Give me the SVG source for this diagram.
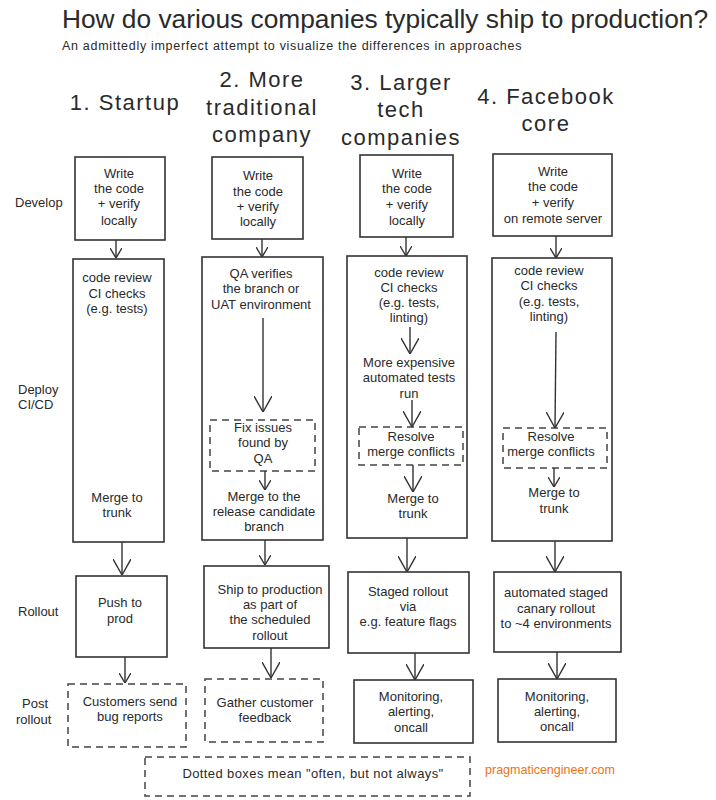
<svg xmlns="http://www.w3.org/2000/svg" width="716" height="800" viewBox="0 0 716 800">
<style>
text{font-family:"Liberation Sans",Arial,sans-serif;fill:#2a2a2a;text-anchor:middle}
.t{font-size:13px}
.h{font-size:22px;letter-spacing:1.5px}
.lbl{font-size:13px;text-anchor:start}
.box{fill:#fff;stroke:#333;stroke-width:1.6}
.dash{fill:#fff;stroke:#444;stroke-width:1.5;stroke-dasharray:7 5}
.c{fill:none;stroke:#333;stroke-width:1.4}
</style>
<defs>
<marker id="a" viewBox="0 0 10 12" refX="10" refY="6" markerWidth="10" markerHeight="12" orient="auto" markerUnits="userSpaceOnUse"><path d="M0,0 L10,6 L0,12" fill="none" stroke="#333" stroke-width="1.4"/></marker>
<marker id="aL" viewBox="0 0 16 18" refX="16" refY="9" markerWidth="16" markerHeight="18" orient="auto" markerUnits="userSpaceOnUse"><path d="M0,0 L16,9 L0,18" fill="none" stroke="#333" stroke-width="1.4"/></marker>
</defs>
<rect width="716" height="800" fill="#fff"/>
<g id="title">
<text x="385" y="28" style="font-size:26.3px">How do various companies typically ship to production?</text>
<text x="62" y="50" style="font-size:12.5px;letter-spacing:0.7px;text-anchor:start">An admittedly imperfect attempt to visualize the differences in approaches</text>
</g>
<g id="headers">
<text class="h" x="125" y="110">1. Startup</text>
<text class="h" x="262" y="87">2. More</text>
<text class="h" x="262" y="115">traditional</text>
<text class="h" x="262" y="142">company</text>
<text class="h" x="401" y="90">3. Larger</text>
<text class="h" x="401" y="117">tech</text>
<text class="h" x="401" y="145">companies</text>
<text class="h" x="546" y="104">4. Facebook</text>
<text class="h" x="546" y="131">core</text>
</g>
<g id="row-labels">
<text class="lbl" x="15" y="207">Develop</text>
<text class="lbl" x="18" y="394">Deploy</text>
<text class="lbl" x="18" y="409">CI/CD</text>
<text class="lbl" x="18" y="616">Rollout</text>
<text class="lbl" x="22" y="708">Post</text>
<text class="lbl" x="16" y="724">rollout</text>
</g>
<g id="c1-develop">
<rect class="box" x="75" y="157" width="90" height="83"/>
<text class="t" x="119" y="178">Write</text>
<text class="t" x="119" y="193">the code</text>
<text class="t" x="119" y="208">+ verify</text>
<text class="t" x="119" y="225">locally</text>
</g>
<g id="c1-deploy">
<rect class="box" x="73" y="259" width="91" height="283"/>
<text class="t" x="117" y="282">code review</text>
<text class="t" x="117" y="298">CI checks</text>
<text class="t" x="117" y="313">(e.g. tests)</text>
<text class="t" x="117" y="502">Merge to</text>
<text class="t" x="117" y="517">trunk</text>
</g>
<g id="c1-rollout">
<rect class="box" x="76" y="576" width="91" height="81"/>
<text class="t" x="120" y="607">Push to</text>
<text class="t" x="120" y="623">prod</text>
</g>
<g id="c1-post">
<rect class="dash" x="68" y="684" width="118" height="63"/>
<text class="t" x="130" y="706">Customers send</text>
<text class="t" x="130" y="721">bug reports</text>
</g>
<g id="c2-develop">
<rect class="box" x="212" y="157" width="91" height="82"/>
<text class="t" x="258" y="180">Write</text>
<text class="t" x="258" y="196">the code</text>
<text class="t" x="258" y="211">+ verify</text>
<text class="t" x="258" y="226">locally</text>
</g>
<g id="c2-deploy">
<rect class="box" x="202" y="257" width="121" height="283"/>
<text class="t" x="261" y="278">QA verifies</text>
<text class="t" x="261" y="293">the branch or</text>
<text class="t" x="261" y="309">UAT environment</text>
<text class="t" x="264" y="501">Merge to the</text>
<text class="t" x="264" y="516">release candidate</text>
<text class="t" x="264" y="531">branch</text>
</g>
<g id="c2-fix">
<rect class="dash" x="210" y="420" width="105" height="51"/>
<text class="t" x="263" y="432">Fix issues</text>
<text class="t" x="263" y="447">found by</text>
<text class="t" x="263" y="463">QA</text>
</g>
<g id="c2-rollout">
<rect class="box" x="204" y="566" width="125" height="82"/>
<text class="t" x="270" y="594">Ship to production</text>
<text class="t" x="270" y="609">as part of</text>
<text class="t" x="270" y="624">the scheduled</text>
<text class="t" x="270" y="640">rollout</text>
</g>
<g id="c2-post">
<rect class="dash" x="205" y="679" width="118" height="63"/>
<text class="t" x="265" y="707">Gather customer</text>
<text class="t" x="265" y="722">feedback</text>
</g>
<g id="c3-develop">
<rect class="box" x="360" y="155" width="93" height="82"/>
<text class="t" x="407" y="178">Write</text>
<text class="t" x="407" y="193">the code</text>
<text class="t" x="407" y="209">+ verify</text>
<text class="t" x="407" y="225">locally</text>
</g>
<g id="c3-deploy">
<rect class="box" x="347" y="256" width="120" height="282"/>
<text class="t" x="409" y="277">code review</text>
<text class="t" x="409" y="292">CI checks</text>
<text class="t" x="409" y="307">(e.g. tests,</text>
<text class="t" x="409" y="322">linting)</text>
<text class="t" x="409" y="367">More expensive</text>
<text class="t" x="409" y="382">automated tests</text>
<text class="t" x="409" y="398">run</text>
<text class="t" x="413" y="503">Merge to</text>
<text class="t" x="413" y="518">trunk</text>
</g>
<g id="c3-resolve">
<rect class="dash" x="359" y="427" width="104" height="38"/>
<text class="t" x="411" y="441">Resolve</text>
<text class="t" x="411" y="456">merge conflicts</text>
</g>
<g id="c3-rollout">
<rect class="box" x="348" y="572" width="121" height="81"/>
<text class="t" x="408" y="596">Staged rollout</text>
<text class="t" x="408" y="611">via</text>
<text class="t" x="408" y="626">e.g. feature flags</text>
</g>
<g id="c3-post">
<rect class="box" x="354" y="680" width="119" height="63"/>
<text class="t" x="411" y="701">Monitoring,</text>
<text class="t" x="411" y="716">alerting,</text>
<text class="t" x="411" y="732">oncall</text>
</g>
<g id="c4-develop">
<rect class="box" x="493" y="154" width="119" height="82"/>
<text class="t" x="553" y="176">Write</text>
<text class="t" x="553" y="191">the code</text>
<text class="t" x="553" y="207">+ verify</text>
<text class="t" x="553" y="223">on remote server</text>
</g>
<g id="c4-deploy">
<rect class="box" x="492" y="258" width="120" height="283"/>
<text class="t" x="549" y="275">code review</text>
<text class="t" x="549" y="290">CI checks</text>
<text class="t" x="549" y="306">(e.g. tests,</text>
<text class="t" x="549" y="321">linting)</text>
<text class="t" x="554" y="497">Merge to</text>
<text class="t" x="554" y="513">trunk</text>
</g>
<g id="c4-resolve">
<rect class="dash" x="503" y="428" width="104" height="40"/>
<text class="t" x="551" y="441">Resolve</text>
<text class="t" x="551" y="456">merge conflicts</text>
</g>
<g id="c4-rollout">
<rect class="box" x="494" y="572" width="127" height="80"/>
<text class="t" x="556" y="597">automated staged</text>
<text class="t" x="556" y="613">canary rollout</text>
<text class="t" x="556" y="628">to ~4 environments</text>
</g>
<g id="c4-post">
<rect class="box" x="498" y="679" width="118" height="63"/>
<text class="t" x="557" y="701">Monitoring,</text>
<text class="t" x="557" y="716">alerting,</text>
<text class="t" x="557" y="731">oncall</text>
</g>
<g id="legend">
<rect class="dash" x="145" y="757" width="325" height="39"/>
<text class="t" x="313" y="778" style="letter-spacing:0.4px">Dotted boxes mean "often, but not always"</text>
</g>
<g id="credit">
<text x="550" y="774" style="font-size:12.5px;fill:#e8731a">pragmaticengineer.com</text>
</g>
<g id="connectors">
<line class="c" x1="116" y1="240" x2="116" y2="258" marker-end="url(#a)"/>
<line class="c" x1="122" y1="542" x2="122" y2="575" marker-end="url(#aL)"/>
<line class="c" x1="125" y1="657" x2="125" y2="683" marker-end="url(#a)"/>
<line class="c" x1="262" y1="239" x2="262" y2="257" marker-end="url(#a)"/>
<line class="c" x1="263" y1="318" x2="263" y2="412" marker-end="url(#aL)"/>
<line class="c" x1="265" y1="471" x2="265" y2="490" marker-end="url(#a)"/>
<line class="c" x1="265" y1="540" x2="265" y2="565" marker-end="url(#a)"/>
<line class="c" x1="271" y1="648" x2="271" y2="678" marker-end="url(#aL)"/>
<line class="c" x1="406" y1="237" x2="406" y2="256" marker-end="url(#a)"/>
<line class="c" x1="410" y1="327" x2="410" y2="354" marker-end="url(#aL)"/>
<line class="c" x1="412" y1="400" x2="412" y2="427" marker-end="url(#aL)"/>
<line class="c" x1="413" y1="465" x2="413" y2="492" marker-end="url(#aL)"/>
<line class="c" x1="407" y1="538" x2="407" y2="572" marker-end="url(#aL)"/>
<line class="c" x1="415" y1="653" x2="415" y2="680" marker-end="url(#aL)"/>
<line class="c" x1="556" y1="236" x2="556" y2="258" marker-end="url(#a)"/>
<line class="c" x1="556" y1="332" x2="555" y2="428" marker-end="url(#aL)"/>
<line class="c" x1="554" y1="468" x2="554" y2="487" marker-end="url(#a)"/>
<line class="c" x1="555" y1="541" x2="555" y2="572" marker-end="url(#aL)"/>
<line class="c" x1="557" y1="652" x2="557" y2="679" marker-end="url(#aL)"/>
</g>
</svg>
